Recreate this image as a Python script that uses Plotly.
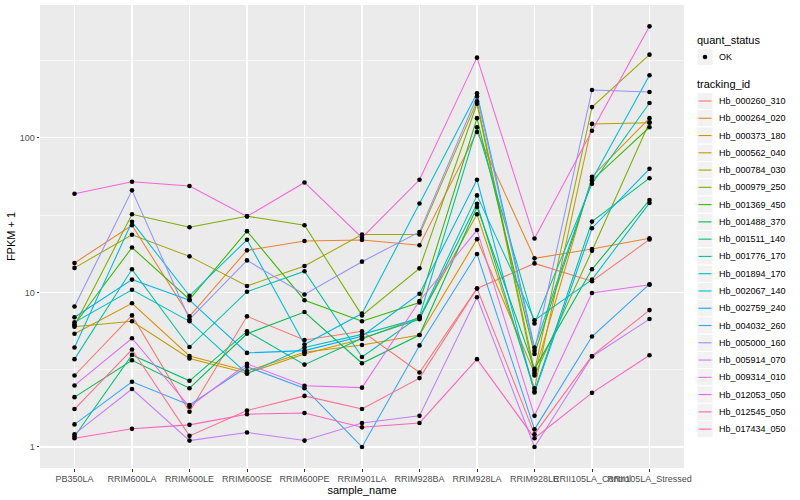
import plotly.graph_objects as go

samples = ["PB350LA", "RRIM600LA", "RRIM600LE", "RRIM600SE", "RRIM600PE", "RRIM901LA",
           "RRIM928BA", "RRIM928LA", "RRIM928LE", "RRII105LA_Control", "RRII105LA_Stressed"]

tracking_ids = ["Hb_000260_310", "Hb_000264_020", "Hb_000373_180", "Hb_000562_040", "Hb_000784_030",
                "Hb_000979_250", "Hb_001369_450", "Hb_001488_370", "Hb_001511_140", "Hb_001776_170",
                "Hb_001894_170", "Hb_002067_140", "Hb_002759_240", "Hb_004032_260", "Hb_005000_160",
                "Hb_005914_070", "Hb_009314_010", "Hb_012053_050", "Hb_012545_050", "Hb_017434_050"]

colors = ["#F8766D", "#EA8331", "#D89000", "#C09B00", "#A3A500", "#7CAE00", "#39B600", "#00BB4E",
          "#00BF7D", "#00C1A3", "#00BFC4", "#00BAE0", "#00B0F6", "#35A2FF", "#9590FF", "#C77CFF",
          "#E76BF3", "#FA62DB", "#FF62BC", "#FF6C91"]

quant_status = ["OK"]
y_ticks = [1, 10, 100]
y_minor = [3.1623, 31.623, 316.23]

# FPKM + 1 values, one list per tracking_id (order of samples above)
Hb_000260_310 = [2.9, 7.1, 1.69, 7.0, 4.92, 5.6, 3.03, 10.6, 15.4, 11.8, 22.0]
Hb_000264_020 = [15.5, 27.2, 7.0, 18.7, 21.5, 21.8, 20.2, 109, 16.6, 19.1, 22.4]
Hb_000373_180 = [5.4, 8.5, 3.88, 3.1, 4.1, 4.57, 5.3, 22.1, 3.0, 56, 134]
Hb_000562_040 = [6.0, 6.5, 3.74, 3.0, 4.0, 5.0, 6.9, 32, 2.4, 123, 125]
Hb_000784_030 = [14.4, 23.6, 17.1, 11.0, 14.8, 23.7, 23.7, 172, 3.1, 158, 345]
Hb_000979_250 = [6.1, 32, 26.4, 31.1, 27.2, 7.1, 14.3, 166, 2.9, 18.6, 126]
Hb_001369_450 = [6.2, 19.5, 9.0, 24.9, 8.9, 6.5, 8.6, 134, 4.0, 53, 117]
Hb_001488_370 = [2.1, 3.64, 2.4, 5.4, 7.46, 3.48, 5.3, 35.7, 3.2, 14.1, 39.6]
Hb_001511_140 = [1.17, 3.94, 2.68, 5.6, 3.41, 5.05, 6.7, 37.4, 2.3, 28.7, 54.8]
Hb_001776_170 = [3.7, 14.1, 4.43, 10.1, 13.7, 3.82, 7.0, 117, 6.3, 50.5, 168]
Hb_001894_170 = [6.4, 10.4, 6.5, 2.98, 4.4, 5.35, 6.8, 42.4, 6.6, 12.1, 37.9]
Hb_002067_140 = [4.4, 28.6, 9.5, 21.9, 4.6, 7.3, 37.6, 194, 4.4, 53.5, 254]
Hb_002759_240 = [6.9, 12.1, 8.9, 4.06, 4.2, 5.2, 9.8, 53.5, 2.25, 26.0, 63]
Hb_004032_260 = [1.4, 2.64, 1.87, 3.3, 2.4, 1.0, 4.54, 17.7, 1.30, 5.18, 11.3]
Hb_005000_160 = [8.1, 45.7, 6.7, 16.1, 9.7, 15.8, 24.6, 185, 4.2, 204, 198]
Hb_005914_070 = [1.21, 2.37, 1.10, 1.24, 1.10, 1.43, 1.59, 9.3, 1.0, 3.85, 6.72]
Hb_009314_010 = [2.5, 5.05, 1.82, 3.45, 2.49, 2.42, 8.8, 25.3, 1.59, 9.9, 11.2]
Hb_012053_050 = [43.5, 52, 48.8, 31.0, 51.4, 22.6, 53.5, 330, 22.3, 111, 526]
Hb_012545_050 = [1.14, 1.31, 1.39, 1.63, 1.66, 1.34, 1.43, 3.7, 1.14, 2.24, 3.92]
Hb_017434_050 = [1.76, 4.27, 1.18, 1.72, 2.14, 1.76, 2.79, 10.6, 1.21, 3.88, 7.68]

series = [Hb_000260_310, Hb_000264_020, Hb_000373_180, Hb_000562_040, Hb_000784_030,
          Hb_000979_250, Hb_001369_450, Hb_001488_370, Hb_001511_140, Hb_001776_170,
          Hb_001894_170, Hb_002067_140, Hb_002759_240, Hb_004032_260, Hb_005000_160,
          Hb_005914_070, Hb_009314_010, Hb_012053_050, Hb_012545_050, Hb_017434_050]

FONT = "Liberation Sans, Arial, sans-serif"
W, H = 800, 500
ML, MR, MT, MB = 40, 116, 5, 32
PW, PH = W - ML - MR, H - MT - MB


def px_x(p):
    return (p - ML) / PW


def px_y(p):
    return (H - MB - p) / PH


fig = go.Figure()

for tid, vals, col in zip(tracking_ids, series, colors):
    fig.add_trace(go.Scatter(
        x=samples, y=vals, mode="lines", name=tid,
        line=dict(color=col, width=1.05), showlegend=False, hoverinfo="skip"))

px_, py_ = [], []
for vals in series:
    px_.extend(samples)
    py_.extend(vals)
fig.add_trace(go.Scatter(
    x=px_, y=py_, mode="markers", name=quant_status[0], showlegend=False,
    marker=dict(color="black", size=4.6, symbol="circle")))

# ---- legend (ggplot style), drawn as layout decoration ----
shapes, annots = [], []
KX0, KX1, TX = 697, 713, 717


def key_box(yc):
    shapes.append(dict(type="rect", xref="paper", yref="paper",
                       x0=px_x(KX0), x1=px_x(KX1), y0=px_y(yc - 8.6), y1=px_y(yc + 8.6),
                       fillcolor="#F2F2F2", line=dict(color="white", width=1), layer="above"))


def label(text, xpx, ypx, size, color="black"):
    annots.append(dict(text=text, xref="paper", yref="paper", x=px_x(xpx), y=px_y(ypx),
                       xanchor="left", yanchor="middle", showarrow=False,
                       font=dict(family=FONT, size=size, color=color)))


label("quant_status", 695, 40.5, 11)
key_box(57)
shapes.append(dict(type="circle", xref="paper", yref="paper",
                   x0=px_x(702.7), x1=px_x(707.3), y0=px_y(59.3), y1=px_y(54.7),
                   fillcolor="black", line=dict(color="black", width=0), layer="above"))
label(quant_status[0], TX, 57, 9)

label("tracking_id", 695, 84, 11)
for i, (tid, col) in enumerate(zip(tracking_ids, colors)):
    yc = 101 + 17.27 * i
    key_box(yc)
    shapes.append(dict(type="line", xref="paper", yref="paper",
                       x0=px_x(698.5), x1=px_x(711.5), y0=px_y(yc), y1=px_y(yc),
                       line=dict(color=col, width=1.1), layer="above"))
    label(tid, TX, yc, 9)

fig.update_layout(
    width=W, height=H,
    margin=dict(l=ML, r=MR, t=MT, b=MB, autoexpand=False),
    paper_bgcolor="white", plot_bgcolor="#EBEBEB",
    font=dict(family=FONT, size=9, color="#4D4D4D"),
    showlegend=False, hovermode=False,
    shapes=shapes, annotations=annots,
    xaxis=dict(type="category", range=[-0.6, 10.6], showgrid=True, gridcolor="white", gridwidth=1.1,
               zeroline=False, ticks="outside", ticklen=2.5, tickcolor="#333333", tickwidth=1,
               tickfont=dict(size=9, color="#4D4D4D"), tickangle=0,
               title=dict(text="sample_name", font=dict(size=11, color="black"), standoff=0),
               automargin=False, showline=False),
    yaxis=dict(type="log", range=[-0.136, 2.859], showgrid=True, gridcolor="white", gridwidth=1.1,
               tickmode="array", tickvals=y_ticks, ticktext=[str(v) for v in y_ticks],
               zeroline=False, ticks="outside", ticklen=2.5, tickcolor="#333333", tickwidth=1,
               tickfont=dict(size=9, color="#4D4D4D"),
               minor=dict(tickmode="array", tickvals=y_minor, showgrid=True,
                          gridcolor="white", gridwidth=0.55, ticks=""),
               title=dict(text="FPKM + 1", font=dict(size=11, color="black"), standoff=1),
               automargin=False, showline=False),
)

fig.write_html("out.html", config={"displayModeBar": False, "staticPlot": True},
               post_script="document.body.style.margin='0px';document.body.style.overflow='hidden';")
